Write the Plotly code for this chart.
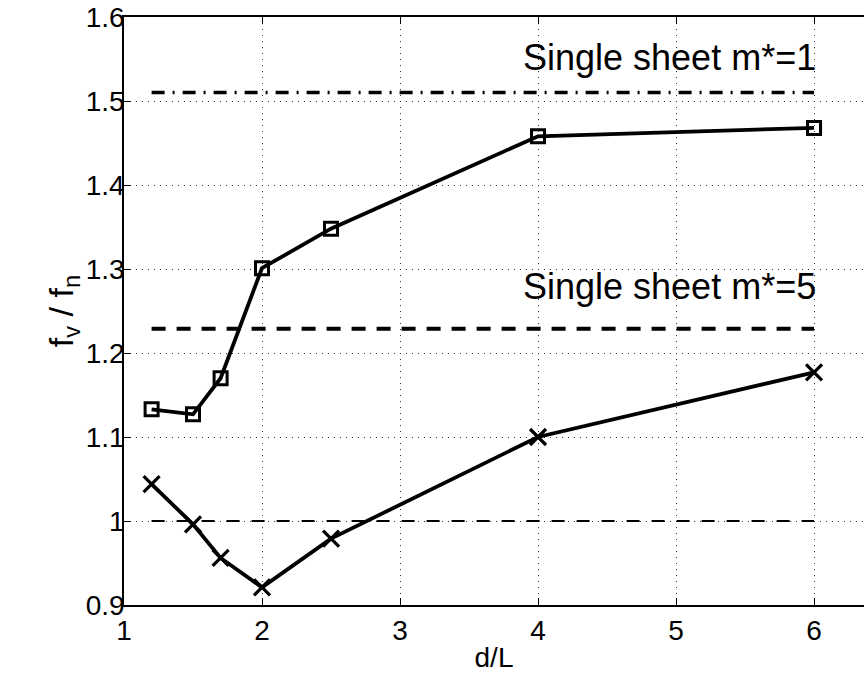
import plotly.graph_objects as go

dL = [1.2, 1.5, 1.7, 2.0, 2.5, 4.0, 6.0]
fv_m1 = [1.133, 1.127, 1.170, 1.301, 1.348, 1.458, 1.468]
fv_m5 = [1.044, 0.996, 0.956, 0.921, 0.979, 1.100, 1.177]
ref_x = [1.2, 6.0]
single_m1 = 1.51
single_m5 = 1.229
unity = 1.0
x_ticks = [1, 2, 3, 4, 5, 6]
y_ticks = [0.9, 1.0, 1.1, 1.2, 1.3, 1.4, 1.5, 1.6]
y_tick_text = ["0.9", "1", "1.1", "1.2", "1.3", "1.4", "1.5", "1.6"]

FONT = "Liberation Sans, Arial, Helvetica, sans-serif"
GRID = "#333333"

fig = go.Figure()
fig.add_trace(go.Scatter(x=ref_x, y=[single_m1] * 2, mode="lines",
                         line=dict(color="black", width=3.5, dash="13px,8px,2px,8px"),
                         showlegend=False))
fig.add_trace(go.Scatter(x=ref_x, y=[single_m5] * 2, mode="lines",
                         line=dict(color="black", width=4, dash="14px,11px"),
                         showlegend=False))
fig.add_trace(go.Scatter(x=ref_x, y=[unity] * 2, mode="lines",
                         line=dict(color="black", width=2, dash="13px,12px"),
                         showlegend=False))
fig.add_trace(go.Scatter(x=dL, y=fv_m1, mode="lines+markers",
                         line=dict(color="black", width=3.8),
                         marker=dict(symbol="square-open", size=13, color="black",
                                     line=dict(color="black", width=3)),
                         showlegend=False))
fig.add_trace(go.Scatter(x=dL, y=fv_m5, mode="lines+markers",
                         line=dict(color="black", width=3.8),
                         marker=dict(symbol="x-thin-open", size=16, color="black",
                                     line=dict(color="black", width=3.2)),
                         showlegend=False))

fig.add_annotation(x=6.029, y=1.5518, xref="x", yref="y", text="Single sheet m*=1",
                   showarrow=False, xanchor="right", yanchor="middle",
                   font=dict(family=FONT, size=36, color="black"))
fig.add_annotation(x=6.029, y=1.2792, xref="x", yref="y", text="Single sheet m*=5",
                   showarrow=False, xanchor="right", yanchor="middle",
                   font=dict(family=FONT, size=36, color="black"))

fig.update_layout(
    width=864, height=677,
    margin=dict(l=124, r=0, t=17, b=72),
    paper_bgcolor="white", plot_bgcolor="white",
    font=dict(family=FONT, size=28, color="black"),
    xaxis=dict(range=[1, 6.362], tickvals=x_ticks, ticktext=[str(t) for t in x_ticks],
               showgrid=True, gridcolor=GRID, griddash="1px,5px", gridwidth=1,
               showline=True, linecolor="black", linewidth=1.5, mirror="ticks",
               ticks="inside", ticklen=7, tickcolor="black", zeroline=False,
               tickfont=dict(size=28),
               title=dict(text="d/L", font=dict(size=28), standoff=2)),
    yaxis=dict(range=[0.9, 1.6], tickvals=y_ticks, ticktext=y_tick_text,
               showgrid=True, gridcolor=GRID, griddash="1px,5px", gridwidth=1,
               showline=True, linecolor="black", linewidth=1.5,
               ticks="inside", ticklen=7, tickcolor="black", zeroline=False,
               tickfont=dict(size=28), ticklabelstandoff=-8,
               title=dict(text="f<sub>v</sub> / f<sub>n</sub>", font=dict(size=34), standoff=2)),
)

fig.write_html("out.html")
